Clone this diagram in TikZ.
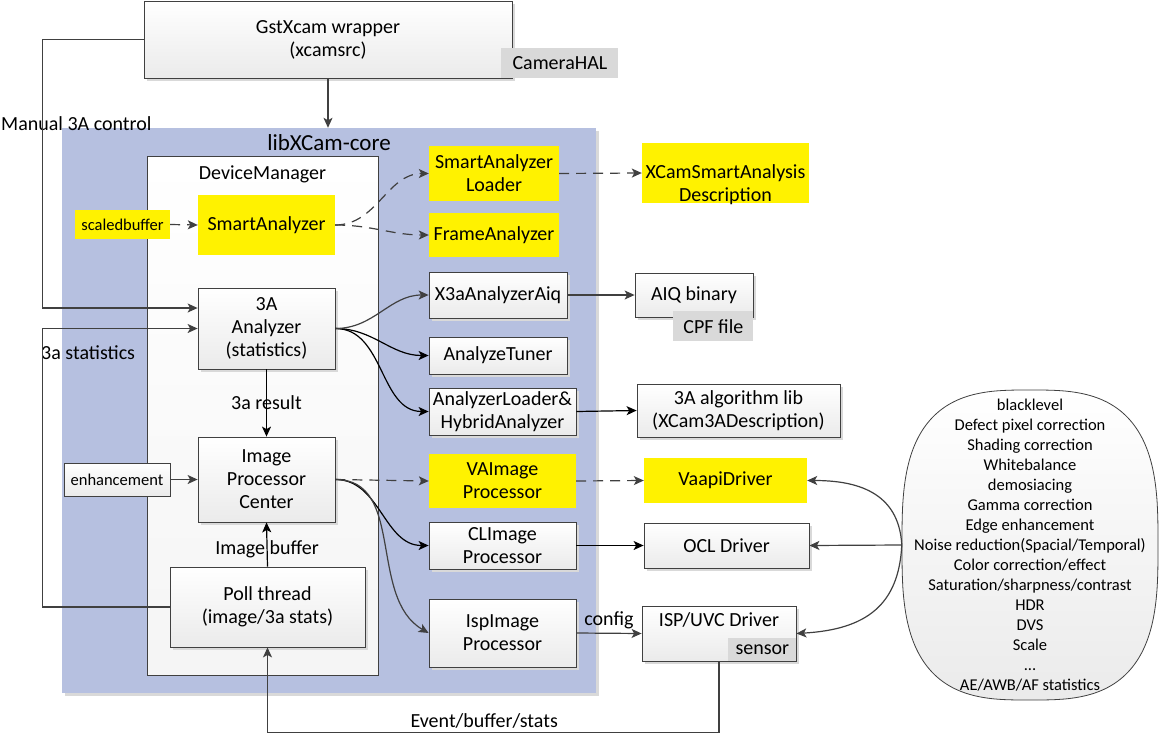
\documentclass[tikz,border=0pt]{standalone}
\usepackage{fontspec}
\setmainfont{Carlito}
\usetikzlibrary{arrows.meta,shapes.geometric,shadows}
\definecolor{coreblue}{RGB}{182,192,224}
\definecolor{edgegray}{RGB}{64,64,64}
\definecolor{tagfill}{RGB}{217,217,217}
\newcommand{\bigtext}{\fontsize{20}{23}\selectfont}
\newcommand{\smalltext}{\fontsize{16.5}{20}\selectfont}
\tikzstyle{box} = [rectangle, align=center, draw=edgegray, line width=0.8pt, inner sep=0pt, top color=white, bottom color=black!8]
\tikzstyle{shadowed} = [drop shadow={shadow xshift=2.5pt, shadow yshift=-2.5pt, fill=black!15, opacity=1}]
\tikzstyle{hot} = [rectangle, align=center, fill=yellow, inner sep=0pt]
\tikzstyle{tag} = [rectangle, align=center, fill=tagfill, inner sep=0pt]
\tikzstyle{gline} = [->, line width=1.2pt, draw=edgegray]
\tikzstyle{bline} = [->, line width=1.2pt, draw=black]
\tikzstyle{dline} = [->, line width=1.2pt, draw=edgegray, dash pattern=on 10pt off 7pt]

\begin{document}
\begin{tikzpicture}[>={Stealth[length=10pt,width=9pt,inset=2.5pt]}, x=1pt, y=-1pt, font=\bigtext]
	\useasboundingbox (0,0) rectangle (1160,734);

	% frames
	\node[fill=coreblue, minimum width=534pt, minimum height=565pt, shadowed] (core) at (329,410.5) {};
	\node[font=\fontsize{23}{27}\selectfont] at ([yshift=-15pt]core.north) (core_title) {libXCam-core};
	\node[box, top color=white, bottom color=black!4, minimum width=231pt, minimum height=519pt] (devmgr) at (262.5,415.5) {};
	\node at ([yshift=-19pt]devmgr.north) (devmgr_title) {DeviceManager};

	% top
	\node[box, shadowed, minimum width=368pt, minimum height=77pt] (gst) at (328,39.5) {GstXcam wrapper\\(xcamsrc)};
	\node[tag, minimum width=117pt, minimum height=30pt] at ([xshift=47.5pt, yshift=15pt]gst.south east) (camhal) {CameraHAL};

	% device manager
	\node[hot, minimum width=137pt, minimum height=60pt] (smart) at (266.5,225) {SmartAnalyzer};
	\node[hot, font=\smalltext, minimum width=95pt, minimum height=29pt] (scaled) at (122.5,224.5) {scaledbuffer};
	\node[box, shadowed, minimum width=137pt, minimum height=81pt] (ana3a) at (266.5,328.5) {3A\\Analyzer\\(statistics)};
	\node[box, shadowed, minimum width=137pt, minimum height=85pt] (ipc) at (266.5,479.5) {Image\\Processor\\Center};
	\node[box, font=\smalltext, minimum width=106pt, minimum height=33pt] (enh) at (117,479.5) {enhancement};
	\node[box, shadowed, minimum width=195pt, minimum height=80pt] (poll) at (267.5,607) {Poll thread\\(image/3a stats)};

	% analyzers
	\node[hot, minimum width=130pt, minimum height=55pt] (loader) at (494,173.5) {SmartAnalyzer\\Loader};
	\node[hot, minimum width=130pt, minimum height=44pt] (frame) at (494,235) {FrameAnalyzer};
	\node[hot, minimum width=167pt, minimum height=60pt, label={[align=center, yshift=-12pt]center:XCamSmartAnalysis\\Description}] (xcsad) at (725.5,173) {};
	\node[box, shadowed, minimum width=138pt, minimum height=46pt] (aiq) at (498,295) {X3aAnalyzerAiq};
	\node[box, shadowed, minimum width=118pt, minimum height=44pt] (aiqbin) at (694,295) {AIQ binary};
	\node[tag, minimum width=80pt, minimum height=30pt] at ([xshift=-40pt, yshift=-9pt]aiqbin.south east) (cpf) {CPF file};
	\node[box, shadowed, minimum width=138pt, minimum height=37pt] (tuner) at (498,355.5) {AnalyzeTuner};
	\node[box, shadowed, minimum width=147pt, minimum height=47pt] (hybrid) at (502.5,411.5) {AnalyzerLoader\&\\HybridAnalyzer};
	\node[box, shadowed, minimum width=203pt, minimum height=53pt] (algolib) at (738.5,410.5) {3A algorithm lib\\(XCam3ADescription)};

	% processors and drivers
	\node[hot, minimum width=147pt, minimum height=54pt] (vaimg) at (502.5,481) {VAImage\\Processor};
	\node[hot, minimum width=163pt, minimum height=45pt] (vaapi) at (725.5,480.5) {VaapiDriver};
	\node[box, shadowed, minimum width=147pt, minimum height=47pt] (climg) at (502.5,545.5) {CLImage\\Processor};
	\node[box, shadowed, minimum width=165pt, minimum height=45pt] (ocl) at (726.5,545.5) {OCL Driver};
	\node[box, shadowed, minimum width=147pt, minimum height=68pt] (ispimg) at (502.5,633) {IspImage\\Processor};
	\node[box, shadowed, minimum width=154pt, minimum height=55pt, label={[anchor=center, yshift=-14pt]north:ISP/UVC Driver}] (ispdrv) at (719,633.5) {};
	\node[tag, minimum width=68pt, minimum height=23pt] at ([xshift=-34pt, yshift=11.5pt]ispdrv.south east) (sensor) {sensor};

	% ISP features (rounded oval drawn first, text node on top)
	\draw[edgegray, line width=0.8pt, top color=white, bottom color=black!8]
		plot[domain=1:361, samples=241] ({1030+128*sign(cos(\x))*abs(cos(\x))^(0.667)}, {545+155*sign(sin(\x))*abs(sin(\x))^(0.667)}) -- cycle;
	\node[align=center, font=\smalltext, minimum width=256pt, minimum height=310pt, inner sep=0pt] (ispfeat) at (1030,545)
		{blacklevel\\Defect pixel correction\\Shading correction\\Whitebalance\\demosiacing\\Gamma correction\\Edge enhancement\\Noise reduction(Spacial/Temporal)\\Color correction/effect\\Saturation/sharpness/contrast\\HDR\\DVS\\Scale\\...\\AE/AWB/AF statistics};

	% labels
	\node[anchor=west, inner sep=0pt] (manual_lbl) at (1,124) {Manual 3A control};
	\node[anchor=west, inner sep=0pt] (stats_lbl) at (41,353) {3a statistics};

	% connectors
	\draw[gline] (gst.south) -- (gst.south |- core.north);
	\draw[gline] (gst.west) -- ++(-101,0) |- ([yshift=20.5pt]ana3a.west);
	\draw[gline] (poll.west) -- ++(-127,0) |- (ana3a.west);
	\draw[bline] (ana3a.south) -- node {3a result} (ipc.north);
	\draw[bline] (poll.north) -- node[pos=0.4] {Image buffer} (ipc.south);
	\draw[gline] (ispimg.east) -- node[above] {config} (ispdrv.west);
	\draw[gline] (ispdrv.south) -- ++(0,71) -| node[pos=0.26, above] {Event/buffer/stats} (poll.south);

	\foreach \a/\b in {scaled/smart, loader/xcsad, ipc/vaimg, vaimg/vaapi}{
		\draw[dline] (\a.east) -- (\b.west);
	}
	\foreach \a/\b in {smart/loader, smart/frame}{
		\draw[dline] (\a.east) to[out=0, in=180] (\b.west);
	}
	\foreach \a/\b in {aiq/aiqbin, enh/ipc}{
		\draw[gline] (\a.east) -- (\b.west);
	}
	\foreach \a/\b in {hybrid/algolib, climg/ocl}{
		\draw[bline] (\a.east) -- (\b.west);
	}
	\foreach \a/\b in {ana3a/tuner, ana3a/hybrid, ipc/climg}{
		\draw[bline] (\a.east) to[out=0, in=180] (\b.west);
	}
	\draw[gline] (ana3a.east) to[out=0, in=180] (aiq.west);
	\draw[gline] (ipc.east) to[out=0, in=150] (ispimg.west);

	\draw[gline] (ispfeat.west) .. controls +(-3,-54) and +(48,0) .. (vaapi.east);
	\draw[gline] (ispfeat.west) -- (ocl.east);
	\draw[gline] (ispfeat.west) .. controls +(-3,60) and +(70,-4) .. (ispdrv.east);
\end{tikzpicture}
\end{document}
